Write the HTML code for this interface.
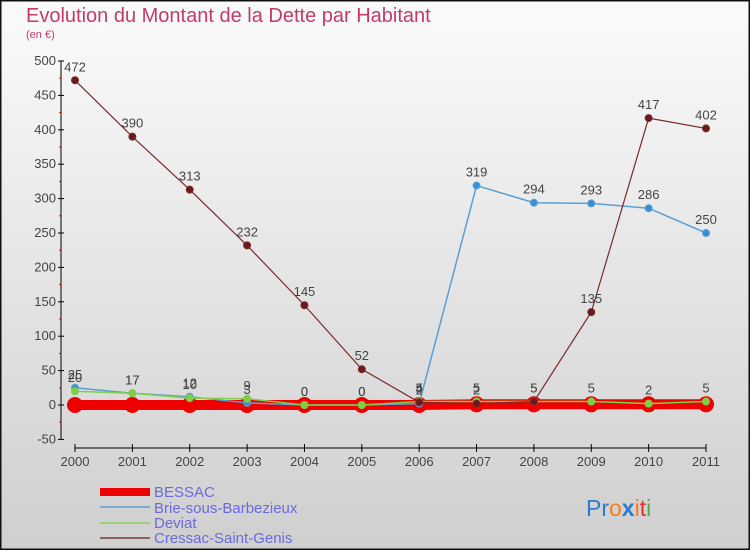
<!DOCTYPE html>
<html><head><meta charset="utf-8"><style>
html,body{margin:0;padding:0;}
body{width:750px;height:550px;overflow:hidden;font-family:"Liberation Sans",sans-serif;}
svg text{font-family:"Liberation Sans",sans-serif;}
</style></head><body>
<svg id="chart" width="750" height="550" xmlns="http://www.w3.org/2000/svg">
<defs><linearGradient id="bg" x1="0" y1="0" x2="0" y2="1"><stop offset="0" stop-color="#fbfbfb"/><stop offset="1" stop-color="#cfcfcf"/></linearGradient></defs>
<rect x="0.5" y="0.5" width="749" height="549" fill="url(#bg)" stroke="#111" stroke-width="2"/>
<text x="26" y="22" font-size="20" fill="#c43a6a">Evolution du Montant de la Dette par Habitant</text>
<text x="26" y="38" font-size="11" fill="#c43a6a">(en €)</text>
<g id="axes"></g><g id="series"></g>
<g font-size="15" fill="#6a6ae0">
<rect x="100" y="488" width="50" height="8" fill="#e00"/>
<text x="154" y="497">BESSAC</text>
<rect x="100" y="506" width="50" height="2" fill="#7aaccc"/>
<text x="154" y="513">Brie-sous-Barbezieux</text>
<rect x="100" y="522" width="50" height="2" fill="#99d07a"/>
<text x="154" y="528">Deviat</text>
<rect x="100" y="537" width="50" height="2" fill="#8a6060"/>
<text x="154" y="543">Cressac-Saint-Genis</text>
</g>
<g font-size="23">
<text x="586" y="516"><tspan fill="#2b7bd0">Pr</tspan><tspan fill="#f08020">o</tspan><tspan fill="#2b7bd0" font-weight="bold">x</tspan><tspan fill="#f08020">i</tspan><tspan fill="#e03030">t</tspan><tspan fill="#50b040">i</tspan></text>
</g>
</svg>
<script>
const years=[2000,2001,2002,2003,2004,2005,2006,2007,2008,2009,2010,2011];
const bessac=[0,0,0,0,0,0,0,1,1,1,1,1];
const brie=[25,17,12,3,0,0,2,319,294,293,286,250];
const deviat=[20,17,10,9,0,0,5,5,5,5,2,5];
const cressac=[472,390,313,232,145,52,4,2,5,135,417,402];
const yTicks=[-50,0,50,100,150,200,250,300,350,400,450,500];
const NS="http://www.w3.org/2000/svg";
function X(i){return 75+i*(706-75)/(years.length-1);}
function Y(v){return 405-v*(405-61)/500;}
function mk(tag,attrs,parent){const e=document.createElementNS(NS,tag);for(const k in attrs)e.setAttribute(k,attrs[k]);parent.appendChild(e);return e;}
const axes=document.getElementById('axes'),ser=document.getElementById('series');
const ya=mk('line',{x1:61,y1:Y(500),x2:61,y2:Y(-50),stroke:'#000'},axes);


yTicks.forEach(v=>{
 mk('line',{x1:58,y1:Y(v),x2:64,y2:Y(v),stroke:'#000'},axes);
 if(v<500)mk('line',{x1:59,y1:Y(v+25),x2:61,y2:Y(v+25),stroke:'#e00'},axes);
 const t=mk('text',{x:56,y:Y(v)+4,'text-anchor':'end','font-size':13,fill:'#444'},axes);
 
 
 t.textContent=v;
});
const xa=mk('line',{x1:X(0),y1:448,x2:X(11),y2:448,stroke:'#000'},axes);


years.forEach((y,i)=>{
 mk('line',{x1:X(i),y1:444,x2:X(i),y2:452,stroke:'#000'},axes);
 const t=mk('text',{x:X(i),y:466,'text-anchor':'middle','font-size':13,fill:'#444'},axes);
 
 
 t.textContent=y;
});
function draw(name,data,color,w,r,fill,labels){
 const g=mk('g',{},ser);
 
 
 mk('polyline',{points:data.map((v,i)=>X(i)+','+Y(v)).join(' '),fill:'none',stroke:color,'stroke-width':w},g);
 data.forEach((v,i)=>{
  const c=mk('circle',{cx:X(i),cy:Y(v),r:r,fill:fill,stroke:color,'stroke-width':w>3?2:1},g);
  
  
  if(labels){const t=mk('text',{x:X(i),y:Y(v)-9,'text-anchor':'middle','font-size':13,fill:'#444'},g);
   
   
   t.textContent=v;}
 });
}
draw('bessac',bessac,'#e00',10,7,'#e00',false);
draw('brie',brie,'#5a9fd4',1.5,3.5,'#3a8fd4',true);
draw('deviat',deviat,'#7ecf4a',1.5,3.5,'#7ed040',true);
draw('cressac',cressac,'#7a2a2a',1.2,3.5,'#6a1a1a',true);
</script>
</body></html>
